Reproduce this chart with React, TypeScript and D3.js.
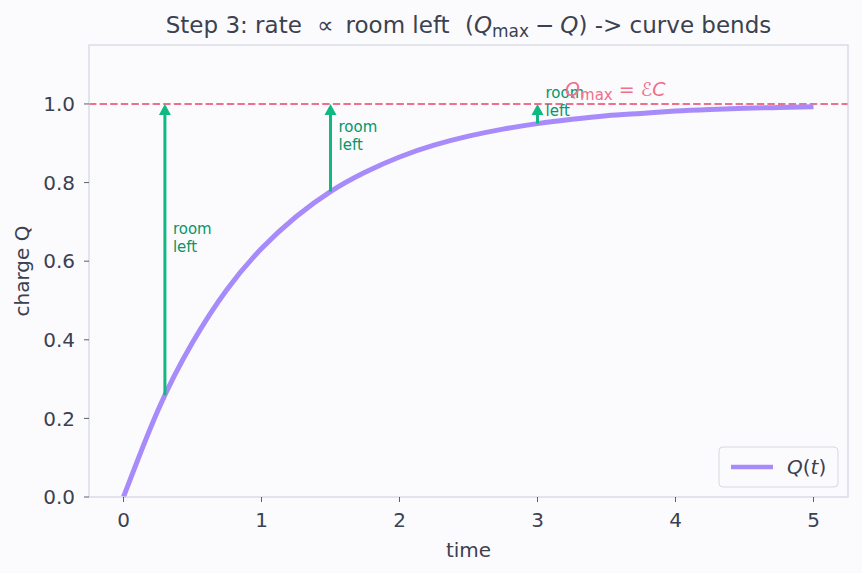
import React from "react";
import * as d3 from "d3";

// values
const timeValues = [0, 0.25, 0.5, 0.75, 1, 1.25, 1.5, 1.75, 2, 2.25, 2.5, 2.75, 3, 3.25, 3.5, 3.75, 4, 4.25, 4.5, 4.75, 5];
const chargeValues = [0, 0.221, 0.393, 0.528, 0.632, 0.713, 0.777, 0.826, 0.865, 0.895, 0.918, 0.936, 0.95, 0.961, 0.97, 0.976, 0.982, 0.986, 0.989, 0.991, 0.993];
const arrowTimes = [0.3, 1.5, 3.0];
const arrowStarts = [0.259, 0.777, 0.95];
const qMax = 1.0;
const xTicks = [0, 1, 2, 3, 4, 5];
const yTicks = [0, 0.2, 0.4, 0.6, 0.8, 1.0];

const W = 862;
const H = 573;
const m = { left: 89, right: 14, top: 45, bottom: 76 };

const FONT = "DejaVu Sans, sans-serif";
const INK = "#3b4150";
const SPINE = "#d3d6e2";
const PURPLE = "#a78bfa";
const GREEN = "#10b981";
const GREEN_TEXT = "#059669";
const ROSE = "#f07089";

const App = () => {
  const x = d3.scaleLinear().domain([-0.25, 5.25]).range([m.left, W - m.right]);
  const y = d3.scaleLinear().domain([0, 1.15]).range([H - m.bottom, m.top]);

  const line = d3
    .line<number>()
    .x((d, i) => x(timeValues[i]))
    .y((d) => y(d))
    .curve(d3.curveNatural);

  const x0 = m.left;
  const x1 = W - m.right;
  const y0 = H - m.bottom;
  const y1 = m.top;

  return (
    <svg width={W} height={H} style={{ display: "block", position: "absolute", left: 0, top: 0 }} fontFamily={FONT}>
      <rect width={W} height={H} fill="#fbfbfe" />
      <rect x={x0} y={y1} width={x1 - x0} height={y0 - y1} fill="#fbfbfe" />

      {/* Qmax dashed line */}
      <line x1={x0} x2={x1} y1={y(qMax)} y2={y(qMax)} stroke={ROSE} strokeWidth={2} strokeDasharray="7.4,3.2" />

      {/* curve */}
      <path d={line(chargeValues) || ""} fill="none" stroke={PURPLE} strokeWidth={5} strokeLinecap="butt" />

      {/* arrows */}
      {arrowTimes.map((t, i) => {
        const ax = x(t);
        const ya = y(arrowStarts[i]);
        const yb = y(qMax);
        const head = 10;
        const mid = y((arrowStarts[i] + qMax) / 2 + 0.03);
        return (
          <g key={i}>
            <line x1={ax} x2={ax} y1={ya} y2={yb + head - 1} stroke={GREEN} strokeWidth={3} />
            <path d={`M${ax},${yb} L${ax - 6},${yb + head + 1} L${ax + 6},${yb + head + 1} Z`} fill={GREEN} />
            <text x={ax + 8} y={mid - 4} fontSize={15} fill={GREEN_TEXT}>room</text>
            <text x={ax + 8} y={mid + 14} fontSize={15} fill={GREEN_TEXT}>left</text>
          </g>
        );
      })}

      {/* Qmax label */}
      <text x={x(3.2)} y={y(1.02)} fontSize={19} fill={ROSE}>
        <tspan fontStyle="italic">Q</tspan>
        <tspan fontSize={15} dy={4}>max</tspan>
        <tspan dy={-4}> = </tspan>
        <tspan fontStyle="italic">ℰC</tspan>
      </text>

      {/* spines */}
      <rect x={x0} y={y1} width={x1 - x0} height={y0 - y1} fill="none" stroke={SPINE} strokeWidth={1.2} />

      {/* x axis */}
      {xTicks.map((t) => (
        <g key={t}>
          <line x1={x(t)} x2={x(t)} y1={y0} y2={y0 + 5} stroke="#5a6070" strokeWidth={1} />
          <text x={x(t)} y={y0 + 30} textAnchor="middle" fontSize={20} fill={INK}>{t}</text>
        </g>
      ))}
      <text x={(x0 + x1) / 2} y={557} textAnchor="middle" fontSize={20} fill={INK}>time</text>

      {/* y axis */}
      {yTicks.map((t) => (
        <g key={t}>
          <line x1={x0 - 5} x2={x0} y1={y(t)} y2={y(t)} stroke="#5a6070" strokeWidth={1} />
          <text x={x0 - 14} y={y(t)} dy="0.36em" textAnchor="end" fontSize={20} fill={INK}>{t.toFixed(1)}</text>
        </g>
      ))}
      <text transform={`translate(29,${(y0 + y1) / 2}) rotate(-90)`} textAnchor="middle" fontSize={20} fill={INK}>charge Q</text>

      {/* title */}
      <text x={(x0 + x1) / 2} y={33} textAnchor="middle" fontSize={23} fill={INK}>
        Step 3: rate <tspan dx={8}>∝</tspan><tspan dx={12}>room left </tspan>
        <tspan dx={8}>(</tspan><tspan fontStyle="italic">Q</tspan><tspan fontSize={17} dy={4}>max</tspan>
        <tspan dy={-4} dx={6}>−</tspan><tspan dx={6} fontStyle="italic">Q</tspan>) -&gt; curve bends
      </text>

      {/* legend */}
      <rect x={719} y={447} width={119} height={40} rx={4} fill="#fbfbfe" stroke="#d6d9e2" strokeWidth={1} />
      <line x1={731} x2={773} y1={467} y2={467} stroke={PURPLE} strokeWidth={4.5} />
      <text x={787} y={474} fontSize={20} fill={INK}>
        <tspan fontStyle="italic">Q</tspan>(<tspan fontStyle="italic">t</tspan>)
      </text>
    </svg>
  );
};

export default App;
